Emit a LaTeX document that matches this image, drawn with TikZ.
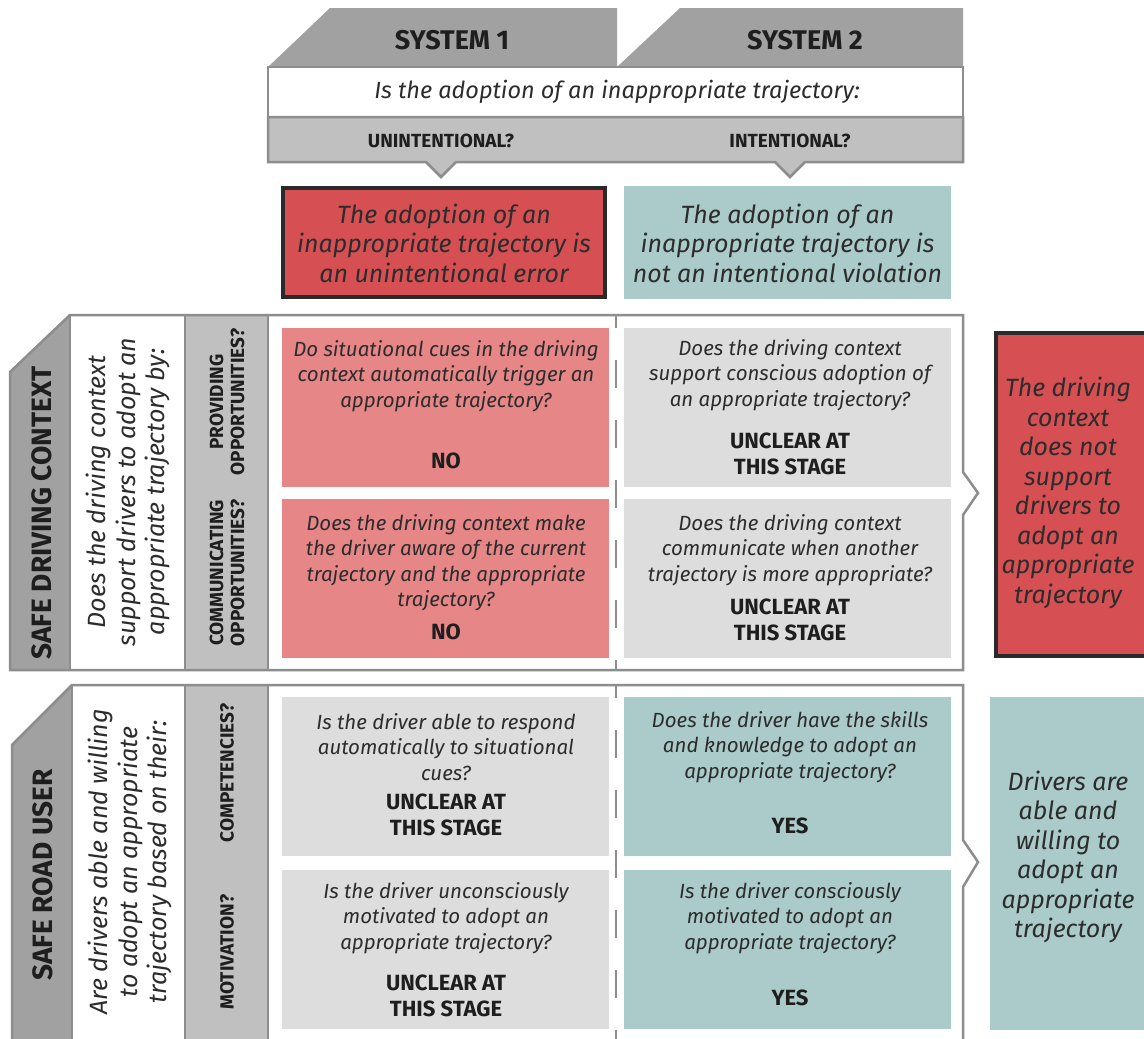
\documentclass[tikz,border=0pt]{standalone}
\usepackage{fontspec}
\setmainfont{Fira Sans}
\definecolor{tabgray}{HTML}{A0A1A0}
\definecolor{bandgray}{HTML}{BFC0BF}
\definecolor{linegray}{HTML}{8C8D8C}
\definecolor{errred}{HTML}{D65053}
\definecolor{darkline}{HTML}{2A2A2A}
\definecolor{pinkcell}{HTML}{E68687}
\definecolor{tealcell}{HTML}{AACBCA}
\definecolor{graycell}{HTML}{DCDDDC}
\definecolor{ink}{HTML}{1E1E1E}
\definecolor{softink}{HTML}{2C2C2C}
\newcommand\qfont{\fontsize{20.5}{25.5}\selectfont\itshape}
\newcommand\ansfont{\fontsize{22}{26}\selectfont\bfseries}
\newcommand\bigfont{\fontsize{25}{29.5}\selectfont\itshape}
\newcommand\hdrfont{\fontsize{27}{30}\selectfont\bfseries}
\newcommand\tagfont{\fontsize{19}{21}\selectfont\bfseries}
\newcommand\sidefont{\fontsize{28}{30}\selectfont\bfseries}
\begin{document}
\begin{tikzpicture}[x=1pt,y=-1pt,
  frame/.style={draw=linegray, line width=2.5pt, line join=miter},
  dashline/.style={draw=linegray, line width=2.5pt, dash pattern=on 28pt off 32pt, dash phase=15pt},
  cell/.style={rectangle, inner sep=0pt, outer sep=0pt, minimum width=327pt, minimum height=159pt},
  qtext/.style={align=center, font=\qfont, text=softink, inner sep=0pt},
  ans/.style={align=center, font=\ansfont, text=ink, inner sep=0pt},
  bigtext/.style={align=center, font=\bigfont, text=softink, inner sep=0pt},
  hdr/.style={font=\hdrfont, text=ink, inner sep=0pt},
  tag/.style={align=center, font=\tagfont, text=ink, inner sep=0pt},
  side/.style={font=\sidefont, text=ink, inner sep=0pt, rotate=90}]
\path[use as bounding box, clip] (0,0) rectangle (1144,1039);
\fill[white] (0,0) rectangle (1144,1039);

% ---------- column headers ----------
\fill[tabgray] (268,67) -- (330,8) -- (617,8) -- (617,67) -- cycle;
\fill[tabgray] (617,67) -- (680,8) -- (963,8) -- (963,67) -- cycle;
\node[hdr] (sys1) at (452,40) {SYSTEM 1};
\node[hdr] (sys2) at (805,40) {SYSTEM 2};

\node[frame, fill=white, minimum width=695pt, minimum height=50pt, inner sep=0pt]
  (question) at (615.5,92) {};
\node[font=\fontsize{23.5}{26}\selectfont\itshape, text=softink, inner sep=0pt] (qtxt) at (617,92)
  {Is the adoption of an inappropriate trajectory:};

\draw[frame, fill=bandgray] (268,117) -- (963,117) -- (963,162) -- (805,162) -- (790,177)
  -- (775,162) -- (456,162) -- (441,177) -- (426,162) -- (268,162) -- cycle;
\node[tag] (unint) at (441,141) {UNINTENTIONAL?};
\node[tag] (int) at (790,141) {INTENTIONAL?};

% ---------- verdict boxes ----------
\node[fill=errred, draw=darkline, line width=4pt, minimum width=322pt, minimum height=109pt, inner sep=0pt]
  (errbox) at (444,242.5) {};
\node[bigtext] (errtxt) at (444,243) {The adoption of an\\inappropriate trajectory is\\an unintentional error};
\node[fill=tealcell, minimum width=327pt, minimum height=113pt, inner sep=0pt]
  (violbox) at (787.5,242.5) {};
\node[bigtext] (violtxt) at (787.5,243) {The adoption of an\\inappropriate trajectory is\\not an intentional violation};

% ---------- safe driving context ----------
\fill[tabgray] (10,372) -- (70,315) -- (70,670) -- (10,670) -- cycle;
\fill[bandgray] (185,315) rectangle (268,670);
\draw[frame] (10,372) -- (70,315) -- (963,315) -- (963,472) -- (978,493) -- (963,515)
  -- (963,670) -- (10,670) -- cycle;
\draw[frame] (70,315) -- (70,670);
\draw[frame] (185,315) -- (185,670);
\draw[frame] (268,315) -- (268,670);
\draw[dashline] (616,315) -- (616,670);

\node[side] (sdc) at (42,513) {SAFE DRIVING CONTEXT};
\node[bigtext, rotate=90] (sdcq) at (128,492) {Does the driving context\\support drivers to adopt an\\appropriate trajectory by:};
\node[tag, rotate=90] (prov) at (227,402) {PROVIDING\\OPPORTUNITIES?};
\node[tag, rotate=90] (comm) at (227,573) {COMMUNICATING\\OPPORTUNITIES?};

\node[cell, fill=pinkcell] (c1a) at (445.5,407.5) {};
\node[cell, fill=pinkcell] (c1b) at (445.5,578.5) {};
\node[cell, fill=graycell] (c2a) at (787.5,407.5) {};
\node[cell, fill=graycell] (c2b) at (787.5,578.5) {};

\node[qtext] (q1a) at (446,376) {Do situational cues in the driving\\context automatically trigger an\\appropriate trajectory?};
\node[ans] (a1a) at (446,461) {NO};
\node[qtext] (q1b) at (446,562.5) {Does the driving context make\\the driver aware of the current\\trajectory and the appropriate\\trajectory?};
\node[ans] (a1b) at (446,632) {NO};
\node[qtext] (q2a) at (790,375) {Does the driving context\\support conscious adoption of\\an appropriate trajectory?};
\node[ans] (a2a) at (790,454) {UNCLEAR AT\\THIS STAGE};
\node[qtext] (q2b) at (790,550) {Does the driving context\\communicate when another\\trajectory is more appropriate?};
\node[ans] (a2b) at (790,620) {UNCLEAR AT\\THIS STAGE};

\node[fill=errred, draw=darkline, line width=4pt, minimum width=170pt, minimum height=323pt, inner sep=0pt,
  anchor=north west] (ctxbox) at (994,331) {};
\node[bigtext] (ctxtxt) at (1068,493) {The driving\\context\\does not\\support\\drivers to\\adopt an\\appropriate\\trajectory};

% ---------- safe road user ----------
\fill[tabgray] (12,745) -- (72,685) -- (72,1045) -- (12,1045) -- cycle;
\fill[bandgray] (185,685) rectangle (268,1045);
\draw[frame] (12,1045) -- (12,745) -- (72,685) -- (963,685) -- (963,840) -- (978,862)
  -- (963,887) -- (963,1045);
\draw[frame] (72,685) -- (72,1045);
\draw[frame] (185,685) -- (185,1045);
\draw[frame] (268,685) -- (268,1045);
\draw[dashline] (616,685) -- (616,1045);

\node[side] (sru) at (43,875) {SAFE ROAD USER};
\node[bigtext, rotate=90] (sruq) at (130,862) {Are drivers able and willing\\to adopt an appropriate\\trajectory based on their:};
\node[tag, rotate=90] (comp) at (227,773) {COMPETENCIES?};
\node[tag, rotate=90] (moti) at (227,952) {MOTIVATION?};

\node[cell, fill=graycell] (c3a) at (445.5,776.5) {};
\node[cell, fill=graycell] (c3b) at (445.5,949.5) {};
\node[cell, fill=tealcell] (c4a) at (787.5,776.5) {};
\node[cell, fill=tealcell] (c4b) at (787.5,949.5) {};

\node[qtext] (q3a) at (446,747) {Is the driver able to respond\\automatically to situational\\cues?};
\node[ans] (a3a) at (446,815) {UNCLEAR AT\\THIS STAGE};
\node[qtext] (q3b) at (446,918) {Is the driver unconsciously\\motivated to adopt an\\appropriate trajectory?};
\node[ans] (a3b) at (446,996) {UNCLEAR AT\\THIS STAGE};
\node[qtext] (q4a) at (790,747) {Does the driver have the skills\\and knowledge to adopt an\\appropriate trajectory?};
\node[ans] (a4a) at (790,826) {YES};
\node[qtext] (q4b) at (790,918) {Is the driver consciously\\motivated to adopt an\\appropriate trajectory?};
\node[ans] (a4b) at (790,998) {YES};

\node[fill=tealcell, minimum width=170pt, minimum height=333pt, inner sep=0pt, anchor=north west]
  (ablebox) at (990,697) {};
\node[bigtext] (abletxt) at (1068,857) {Drivers are\\able and\\willing to\\adopt an\\appropriate\\trajectory};
\end{tikzpicture}
\end{document}
